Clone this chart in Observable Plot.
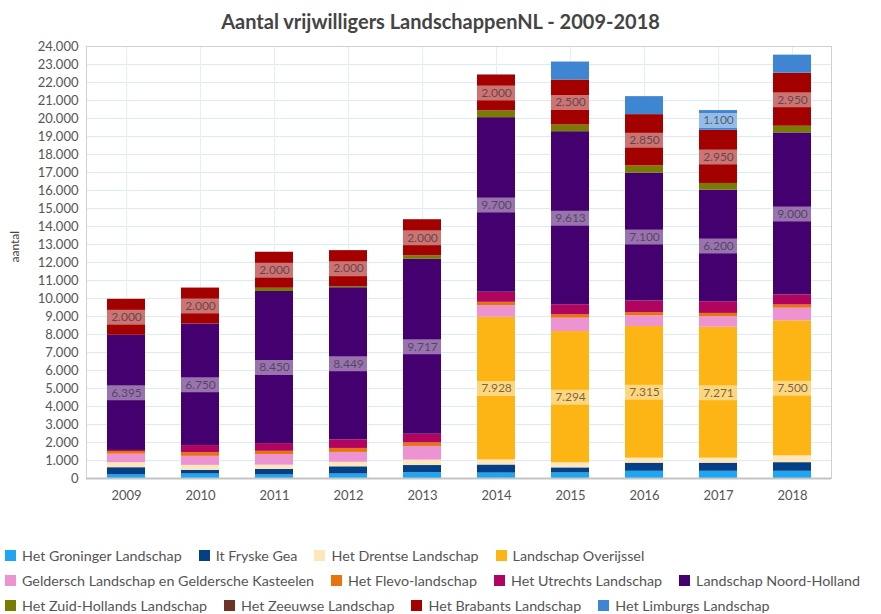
<!DOCTYPE html>
<html><head><meta charset="utf-8">
<script src="https://cdn.jsdelivr.net/npm/d3@7"></script>
<script src="https://cdn.jsdelivr.net/npm/@observablehq/plot@0.6"></script>
<style>
body{margin:0;background:#fff;font-family:Lato,"Open Sans",sans-serif;}
#title{height:36px;line-height:42px;text-align:center;font-weight:bold;font-size:20px;color:#444;}
#legend{margin-top:27px;font-size:14.3px;color:#555;}
.row{display:flex;height:25px;align-items:center;padding-left:5px;}
.item{display:flex;align-items:center;margin-right:17px;white-space:nowrap;}
.sw{width:11px;height:11px;margin-right:6px;flex:none;}
</style></head><body>
<div id="title">Aantal vrijwilligers LandschappenNL - 2009-2018</div>
<div id="chart"></div>
<div id="legend"></div>
<script>
const years = ["2009","2010","2011","2012","2013","2014","2015","2016","2017","2018"];
const series = ["Het Groninger Landschap","It Fryske Gea","Het Drentse Landschap","Landschap Overijssel",
  "Geldersch Landschap en Geldersche Kasteelen","Het Flevo-landschap","Het Utrechts Landschap","Landschap Noord-Holland",
  "Het Zuid-Hollands Landschap","Het Zeeuwse Landschap","Het Brabants Landschap","Het Limburgs Landschap"];
const colors = ["#1ea6f2","#053f85","#fde7bb","#fdb515","#ee93d2","#e8740f","#b0045f","#45006f","#7a7b02","#6b3427","#a30000","#3f86d2"];

const groninger   = [200, 250, 200, 250, 320, 300, 310, 400, 400, 400];
const fryske      = [400, 200, 300, 400, 400, 450, 280, 450, 450, 480];
const drentse     = [280, 280, 240, 250, 300, 280, 280, 280, 280, 380];
const overijssel  = [0, 0, 0, 0, 0, 7928, 7294, 7315, 7271, 7500];
const gelders     = [470, 500, 590, 550, 760, 650, 740, 590, 590, 700];
const flevo       = [150, 200, 180, 220, 200, 180, 190, 180, 180, 180];
const utrechts    = [60, 400, 430, 480, 480, 560, 560, 650, 650, 560];
const noordHolland= [6395, 6750, 8450, 8449, 9717, 9700, 9613, 7100, 6200, 9000];
const zuidHolland = [0, 0, 180, 60, 200, 370, 370, 400, 370, 370];
const zeeuwse     = [0, 0, 0, 0, 0, 0, 0, 0, 0, 0];
const brabants    = [2000, 2000, 2000, 2000, 2000, 2000, 2500, 2850, 2950, 2950];
const limburgs    = [0, 0, 0, 0, 0, 0, 1000, 1000, 1100, 1000];
const values = [groninger, fryske, drentse, overijssel, gelders, flevo, utrechts, noordHolland, zuidHolland, zeeuwse, brabants, limburgs];

const labelledSeries = ["Landschap Overijssel","Landschap Noord-Holland","Het Brabants Landschap"];
const extraLabels = [["Het Limburgs Landschap","2017"]];
const yTicks = d3.range(0, 24001, 1000);

const fmt = d3.formatLocale({decimal: ",", thousands: ".", grouping: [3], currency: ["€", ""]}).format(",d");

const rows = [];
years.forEach((yr, i) => series.forEach((s, j) => {
  const v = values[j][i];
  const lab = v > 0 && (labelledSeries.includes(s) || extraLabels.some(([a, b]) => a === s && b === yr));
  rows.push({year: yr, series: s, value: v, label: lab ? fmt(v) : ""});
}));

const stackOpts = {x: "year", y: "value", z: "series", order: series};

const chart = Plot.plot({
  width: 881, height: 480,
  marginTop: 10, marginBottom: 38, marginLeft: 86, marginRight: 50,
  style: {fontFamily: "Lato, sans-serif", fontSize: "13px", color: "#555", background: "#fff"},
  x: {domain: years, paddingInner: 0.49, paddingOuter: 0.245, label: null, tickSize: 0, tickPadding: 12},
  y: {domain: [0, 24000], ticks: yTicks, tickFormat: fmt, tickSize: 0, tickPadding: 8, label: null},
  color: {domain: series, range: colors},
  marks: [
    Plot.ruleY(yTicks, {stroke: "#daebf5", strokeWidth: 1}),
    Plot.ruleX(years, {stroke: "#e2eff7", strokeWidth: 1}),
    Plot.frame({stroke: "#d0d0d0"}),
    Plot.barY(rows, {x: "year", y: "value", fill: "series", order: series}),
    Plot.tickY(rows, Plot.filter(d => d.label !== "", Plot.stackY({...stackOpts, stroke: "white", strokeWidth: 15, strokeOpacity: 0.45}))),
    Plot.text(rows, Plot.filter(d => d.label !== "", Plot.stackY({...stackOpts, text: "label", fill: "#333", fillOpacity: 0.7, fontSize: 12}))),
    Plot.ruleY([0], {stroke: "#c4c4c4", strokeWidth: 2}),
    Plot.text(["aantal"], {frameAnchor: "left", rotate: -90, dx: -71, fontSize: 12, fill: "#444"})
  ]
});
document.getElementById("chart").appendChild(chart);

const legendRows = [
  series.slice(0, 4), series.slice(4, 8), series.slice(8, 12)
];
const legend = document.getElementById("legend");
legendRows.forEach(r => {
  const row = document.createElement("div");
  row.className = "row";
  r.forEach(s => {
    const it = document.createElement("div");
    it.className = "item";
    const sw = document.createElement("span");
    sw.className = "sw";
    sw.style.background = colors[series.indexOf(s)];
    const t = document.createElement("span");
    t.textContent = s;
    it.appendChild(sw); it.appendChild(t);
    row.appendChild(it);
  });
  legend.appendChild(row);
});
</script>
</body></html>
